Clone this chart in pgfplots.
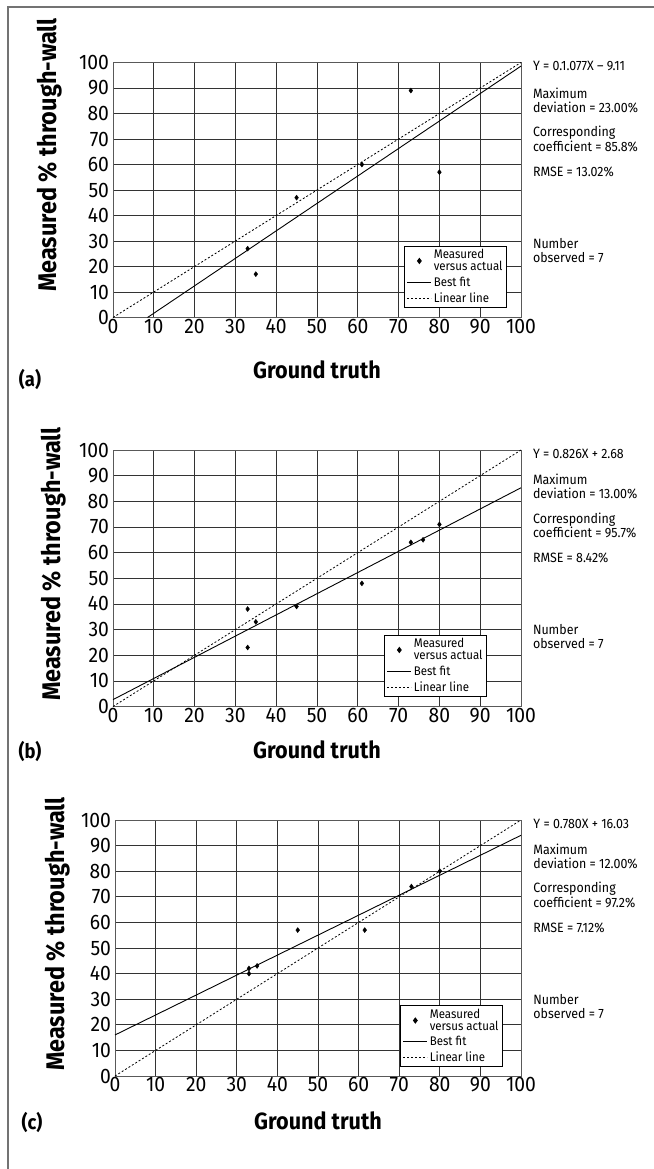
\documentclass[border=0pt]{standalone}
\usepackage{fontspec}
\setmainfont[FakeStretch=0.92]{Fira Sans}
\usepackage{pgfplots}
\pgfplotsset{compat=1.18}

\tikzset{rtext/.style={anchor=west, font=\fontsize{13.5}{14}\selectfont, inner sep=0pt}}
\pgfplotsset{
  panel/.style={
    scale only axis, width=408pt, height=255pt,
    anchor=south west, clip=false,
    xmin=0, xmax=100, ymin=0, ymax=100,
    xtick={0,10,...,100}, ytick={0,10,...,100},
    grid=major, grid style={black!80, line width=0.7pt},
    axis line style={black!65, line width=0.9pt},
    major tick length=0pt,
    tick label style={font=\fontsize{21}{21}\selectfont},
    /pgf/number format/assume math mode=true,
    xticklabel style={yshift=2pt},
    yticklabel style={xshift=-0.5pt},
    legend cell align=left,
    legend style={draw=black, line width=0.9pt, fill=white,
      font=\fontsize{12.5}{12}\selectfont, cells={align=left},
      inner xsep=2pt, inner ysep=1.5pt, row sep=0.5pt},
  },
  meas/.style={only marks, mark=diamond*, mark size=2.5pt, black,
    legend image code/.code={\draw[mark repeat=2,mark phase=2,##1] plot coordinates {(0pt,0pt) (12pt,0pt) (24pt,0pt)};}},
  fit/.style={black, line width=0.9pt, no marks,
    legend image code/.code={\draw[##1] (0pt,0pt) -- (24pt,0pt);}},
  lin/.style={black, line width=0.8pt, dash pattern=on 2pt off 2pt, no marks,
    legend image code/.code={\draw[##1] (0pt,0pt) -- (24pt,0pt);}},
}

\begin{document}
\begin{tikzpicture}
\path[use as bounding box] (0pt,0pt) rectangle (653pt,-1169pt);
\draw[black!55, line width=1.5pt] (8pt,-1170pt) -- (8pt,-7pt) -- (654pt,-7pt);

% ---------------- (a)
\begin{axis}[panel, at={(113pt,-317.5pt)},
  legend style={at={(1,0)}, anchor=south east, xshift=-14pt, yshift=10pt}]
\addplot[meas] coordinates {(33,27) (35,17) (45,47) (61,60) (73,89) (80,57)};
\addlegendentry{Measured\\versus actual}
\addplot[fit] coordinates {(8.46,0) (100,98.59)};
\addlegendentry{Best fit}
\addplot[lin] coordinates {(0,0) (100,100)};
\addlegendentry{Linear line}
\node[rtext] at (axis cs:102.9,98.5) {Y = 0.1.077X – 9.11};
\node[rtext] at (axis cs:102.9,88) {Maximum};
\node[rtext] at (axis cs:102.9,82.5) {deviation = 23.00\%};
\node[rtext] at (axis cs:102.9,72.5) {Corresponding};
\node[rtext] at (axis cs:102.9,67.2) {coefficient = 85.8\%};
\node[rtext] at (axis cs:102.9,57) {RMSE = 13.02\%};
\node[rtext] at (axis cs:102.9,29) {Number};
\node[rtext] at (axis cs:102.9,23.6) {observed = 7};
\end{axis}
\node[rotate=90, font=\bfseries\fontsize{25.5}{25}\selectfont] at (50pt,-155pt) {Measured \% through-wall};
\node[font=\bfseries\fontsize{23.5}{23}\selectfont] at (317pt,-370pt) {Ground truth};
\node[font=\bfseries\fontsize{20}{20}\selectfont] at (30pt,-379pt) {(a)};

% ---------------- (b)
\begin{axis}[panel, at={(113pt,-706.5pt)}, height=256.5pt,
  legend style={at={(1,0)}, anchor=south east, xshift=-34pt, yshift=10pt}]
\addplot[meas] coordinates {(33,38) (35,33) (33,23) (45,39) (61,48) (73,64) (76,65) (80,71)};
\addlegendentry{Measured\\versus actual}
\addplot[fit] coordinates {(0,2.68) (100,85.28)};
\addlegendentry{Best fit}
\addplot[lin] coordinates {(0,0) (100,100)};
\addlegendentry{Linear line}
\node[rtext] at (axis cs:102.9,98.5) {Y = 0.826X + 2.68};
\node[rtext] at (axis cs:102.9,88.5) {Maximum};
\node[rtext] at (axis cs:102.9,83) {deviation = 13.00\%};
\node[rtext] at (axis cs:102.9,73) {Corresponding};
\node[rtext] at (axis cs:102.9,67.7) {coefficient = 95.7\%};
\node[rtext] at (axis cs:102.9,58) {RMSE = 8.42\%};
\node[rtext] at (axis cs:102.9,30) {Number};
\node[rtext] at (axis cs:102.9,24.6) {observed = 7};
\end{axis}
\node[rotate=90, font=\bfseries\fontsize{25.5}{25}\selectfont] at (54pt,-564pt) {Measured \% through-wall};
\node[font=\bfseries\fontsize{23.5}{23}\selectfont] at (317pt,-750pt) {Ground truth};
\node[font=\bfseries\fontsize{20}{20}\selectfont] at (30pt,-751pt) {(b)};

% ---------------- (c)
\begin{axis}[panel, at={(115pt,-1076pt)}, width=406pt, height=256pt,
  legend style={at={(1,0)}, anchor=south east, xshift=-18pt, yshift=9pt}]
\addplot[meas] coordinates {(33,42) (33,40) (35,43) (45,57) (61.5,57) (73,74) (80,80)};
\addlegendentry{Measured\\versus actual}
\addplot[fit] coordinates {(0,16.03) (100,94.03)};
\addlegendentry{Best fit}
\addplot[lin] coordinates {(0,0) (100,100)};
\addlegendentry{Linear line}
\node[rtext] at (axis cs:103,98.5) {Y = 0.780X + 16.03};
\node[rtext] at (axis cs:103,88.5) {Maximum};
\node[rtext] at (axis cs:103,83) {deviation = 12.00\%};
\node[rtext] at (axis cs:103,73) {Corresponding};
\node[rtext] at (axis cs:103,67.7) {coefficient = 97.2\%};
\node[rtext] at (axis cs:103,58) {RMSE = 7.12\%};
\node[rtext] at (axis cs:103,30) {Number};
\node[rtext] at (axis cs:103,24.6) {observed = 7};
\end{axis}
\node[rotate=90, font=\bfseries\fontsize{25.5}{25}\selectfont] at (58pt,-934pt) {Measured \% through-wall};
\node[font=\bfseries\fontsize{23.5}{23}\selectfont] at (318pt,-1121pt) {Ground truth};
\node[font=\bfseries\fontsize{20}{20}\selectfont] at (32pt,-1122pt) {(c)};
\end{tikzpicture}
\end{document}
